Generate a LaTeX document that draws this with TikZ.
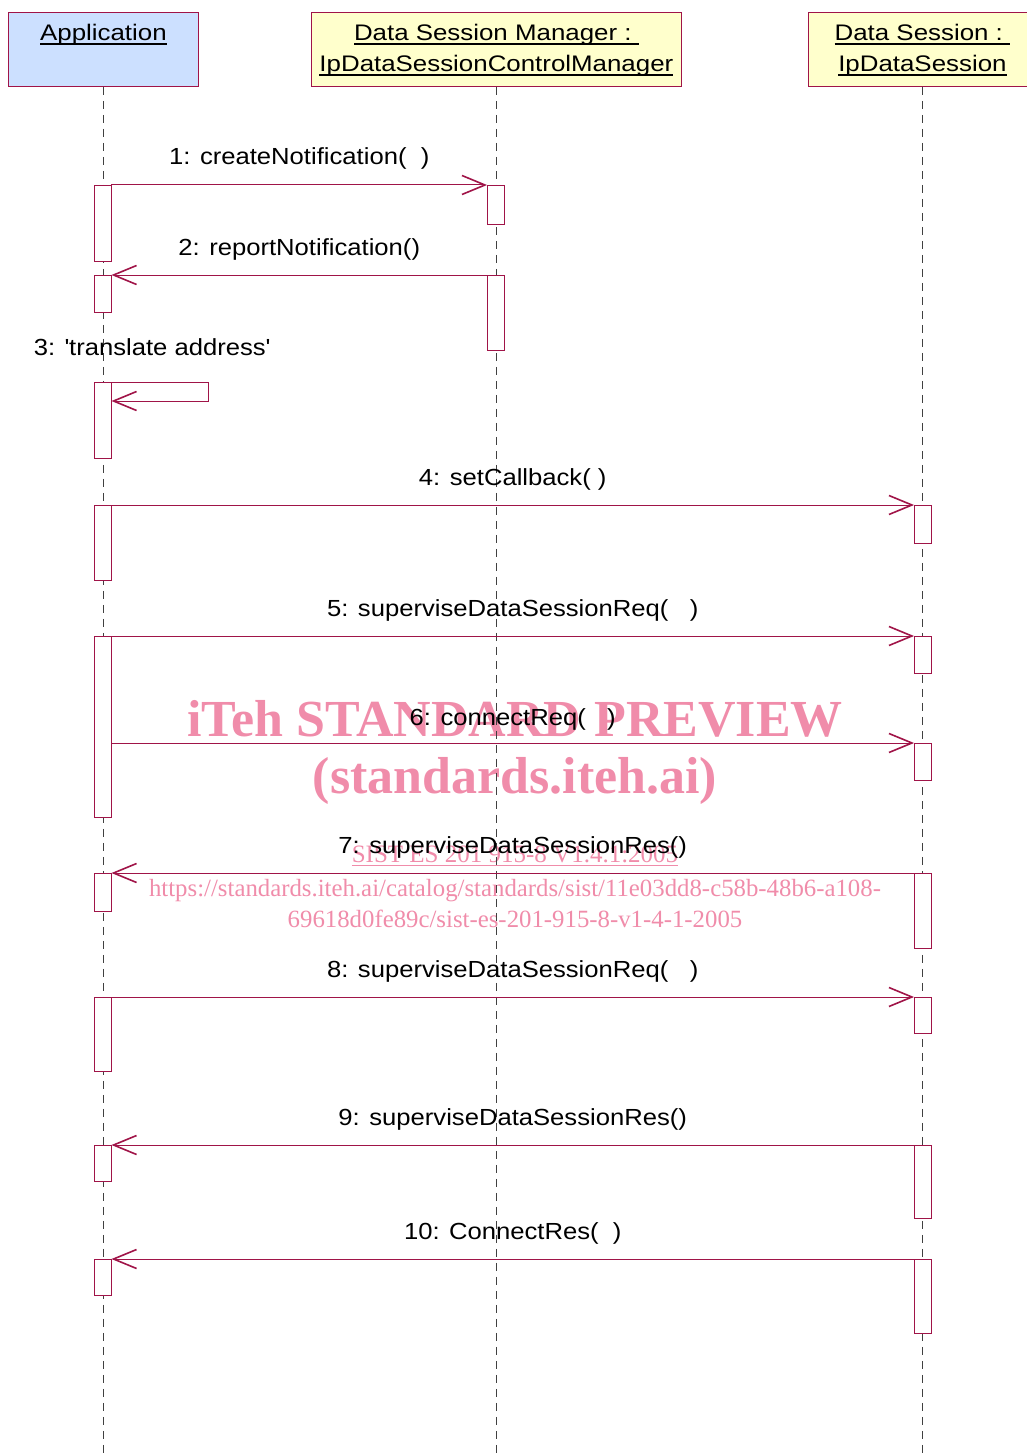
\documentclass[tikz,border=0pt]{standalone}
\usepackage{fontspec}
\setmainfont{Liberation Sans}[FakeStretch=1.1]
\newfontfamily\hdrfont{Liberation Sans}[FakeStretch=1.15]
\newfontfamily\wmfont{Liberation Serif}
\usetikzlibrary{positioning,arrows.meta}
\definecolor{seqline}{RGB}{160,20,72}
\definecolor{appblue}{RGB}{204,224,255}
\definecolor{objyellow}{RGB}{255,255,204}
\definecolor{wmpink}{RGB}{240,140,170}
\newcommand{\uname}[1]{\setbox0\hbox{#1}\rlap{\rule[-4.2pt]{\wd0}{1.5pt}}\box0}
\tikzset{
  obj/.style={rectangle,draw=seqline,line width=0.8pt,anchor=north west,inner sep=0pt},
  objtxt/.style={align=center,font=\hdrfont\fontsize{22.5}{31}\selectfont,inner sep=0pt},
  life/.style={draw=black!75,line width=0.9pt,dash pattern=on 8pt off 6pt},
  act/.style={rectangle,draw=seqline,fill=white,line width=0.9pt,minimum width=17pt,anchor=north,inner sep=0pt},
  msg/.style={draw=seqline,line width=1pt,-{Straight Barb[length=23pt,width=19pt,line width=1.6pt]}},
  lbl/.style={font=\fontsize{23.3}{27}\selectfont,inner sep=0pt,anchor=base},
  wm/.style={text=wmpink,inner sep=0pt,anchor=base,font=\wmfont}
}
\begin{document}
\begin{tikzpicture}[x=1pt,y=-1pt]
\useasboundingbox (0,0) rectangle (1027,1455);
\coordinate (bot) at (0,1455);
% watermark
\node[wm,font=\wmfont\bfseries\fontsize{52}{60}\selectfont] (wm1) at (515,736) {iTeh STANDARD PREVIEW};
\node[wm,font=\wmfont\bfseries\fontsize{52}{60}\selectfont] (wm2) at (515,793) {(standards.iteh.ai)};
\node[wm,font=\wmfont\fontsize{25}{30}\selectfont] (wm3) at (515,862) {\uname{SIST ES 201 915-8 V1.4.1:2005}};
\node[wm,font=\wmfont\fontsize{24.8}{30}\selectfont] (wm4) at (515,896) {https://standards.iteh.ai/catalog/standards/sist/11e03dd8-c58b-48b6-a108-};
\node[wm,font=\wmfont\fontsize{24.8}{30}\selectfont] (wm5) at (515,927) {69618d0fe89c/sist-es-201-915-8-v1-4-1-2005};
% objects
\node[obj,fill=appblue,minimum width=190pt,minimum height=74pt] (app) at (8,12) {};
\node[obj,fill=objyellow,minimum width=370pt,minimum height=74pt] (mgr) at (311,12) {};
\node[obj,fill=objyellow,minimum width=228pt,minimum height=74pt] (ses) at (808,12) {};
\node[objtxt,below=12pt of app.north] {\uname{Application}};
\node[objtxt,below=12pt of mgr.north] {\uname{Data Session Manager :\ }\\\uname{IpDataSessionControlManager}};
\node[objtxt,below=12pt of ses.north] {\uname{Data Session :\ }\\\uname{IpDataSession}};
% lifelines
\draw[life] (app.south) -- (app.south |- bot);
\draw[life] (mgr.south) -- (mgr.south |- bot);
\draw[life] (ses.south) -- (ses.south |- bot);
% activations
\node[act,minimum height=76pt] (a1) at (102.5,185) {};
\node[act,minimum height=37pt] (a2) at (102.5,275) {};
\node[act,minimum height=76pt] (a3) at (102.5,382) {};
\node[act,minimum height=75pt] (a4) at (102.5,505) {};
\node[act,minimum height=181pt] (a5) at (102.5,636) {};
\node[act,minimum height=38pt] (a7) at (102.5,873) {};
\node[act,minimum height=74pt] (a8) at (102.5,997) {};
\node[act,minimum height=36pt] (a9) at (102.5,1145) {};
\node[act,minimum height=36pt] (a10) at (102.5,1259) {};
\node[act,minimum height=39pt] (m1) at (496,185) {};
\node[act,minimum height=75pt] (m2) at (496,275) {};
\node[act,minimum height=38pt] (s4) at (923,505) {};
\node[act,minimum height=37pt] (s5) at (923,636) {};
\node[act,minimum height=37pt] (s6) at (923,743) {};
\node[act,minimum height=75pt] (s7) at (923,873) {};
\node[act,minimum height=36pt] (s8) at (923,997) {};
\node[act,minimum height=73pt] (s9) at (923,1145) {};
\node[act,minimum height=74pt] (s10) at (923,1259) {};
% messages
\draw[msg] (a1.north east) -- (m1.north west) node[lbl,midway,yshift=20pt] {1: createNotification(\ \ )};
\draw[msg] (m2.north west) -- (a2.north east) node[lbl,midway,yshift=20pt] {2: reportNotification()};
\draw[msg] (a3.north east) -- ++(97,0) |- ([yshift=-19pt]a3.north east);
\node[lbl] (l3) at (152,355) {3: \textquotesingle translate address\textquotesingle};
\draw[msg] (a4.north east) -- (s4.north west) node[lbl,midway,yshift=20pt] {4: setCallback( )};
\draw[msg] (a5.north east) -- (s5.north west) node[lbl,midway,yshift=20pt] {5: superviseDataSessionReq(\ \ \ )};
\draw[msg] (a5.east |- s6.north) -- (s6.north west) node[lbl,midway,yshift=18pt] {6: connectReq(\ \ \ )};
\draw[msg] (s7.north west) -- (a7.north east) node[lbl,midway,yshift=20pt] {7: superviseDataSessionRes()};
\draw[msg] (a8.north east) -- (s8.north west) node[lbl,midway,yshift=20pt] {8: superviseDataSessionReq(\ \ \ )};
\draw[msg] (s9.north west) -- (a9.north east) node[lbl,midway,yshift=20pt] {9: superviseDataSessionRes()};
\draw[msg] (s10.north west) -- (a10.north east) node[lbl,midway,yshift=20pt] {10: ConnectRes(\ \ )};
\end{tikzpicture}
\end{document}
